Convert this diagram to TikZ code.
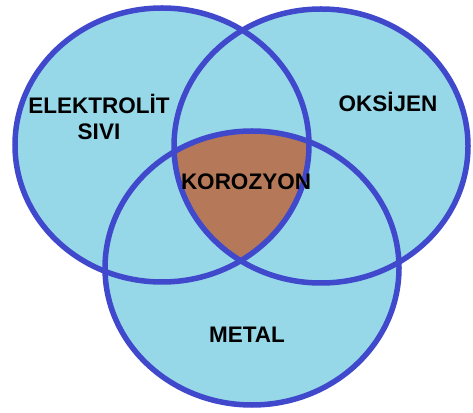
\documentclass[tikz,border=0pt]{standalone}
\usepackage{fontspec}
\setmainfont{Liberation Sans}
\usetikzlibrary{positioning}
\definecolor{vennfill}{RGB}{150,216,232}
\definecolor{vennrim}{RGB}{64,72,204}
\definecolor{rust}{RGB}{181,120,88}

\begin{document}
\begin{tikzpicture}[x=1pt, y=1pt,
    lbl/.style={font=\bfseries\fontsize{22.5}{26}\selectfont, align=center, anchor=base},
    rim/.style={draw=vennrim, line width=5.5pt},
    oval/.style={x radius=147pt, y radius=137pt}
  ]
  \useasboundingbox (0,0) rectangle (473,412);
  \coordinate (cl) at (162,267);
  \coordinate (cr) at (321,266);
  \coordinate (cb) at (252,144);

  \foreach \c in {cl,cr,cb} \fill[vennfill] (\c) ellipse [oval];
  \begin{scope}
    \clip (cl) ellipse [oval];
    \clip (cr) ellipse [oval];
    \fill[rust] (cb) ellipse [oval];
  \end{scope}
  \foreach \c in {cl,cr,cb} \draw[rim] (\c) ellipse [oval];

  \node[lbl] (sivi)   at (99,272) {ELEKTROLİT\\SIVI};
  \node[lbl] (oksijen) at (388,300) {OKSİJEN};
  \node[lbl] (korozyon) at (246,222) {KOROZYON};
  \node[lbl] (metal)  at (247,70)  {METAL};
\end{tikzpicture}
\end{document}
